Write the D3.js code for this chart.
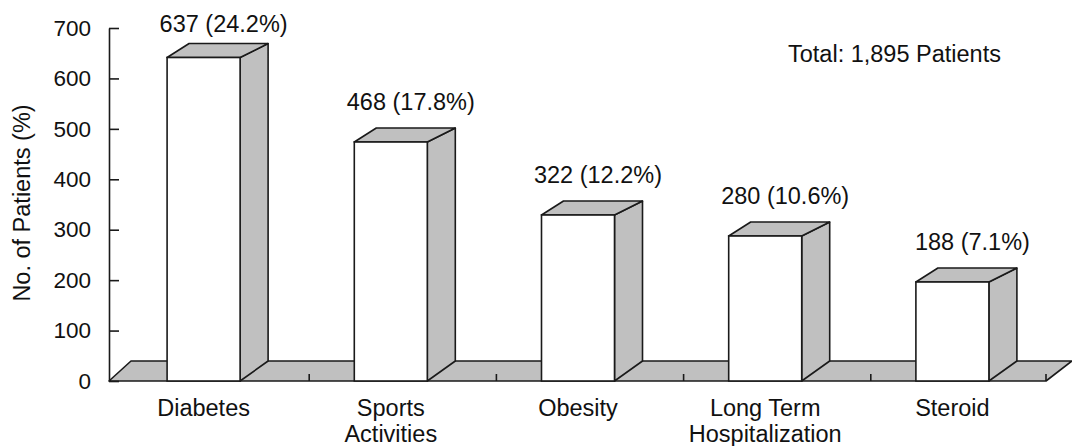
<!DOCTYPE html>
<html>
<head>
  <meta charset="utf-8">
  <script src="https://d3js.org/d3.v7.min.js"></script>
  <style>
    body { margin: 0; background: #fff; }
    svg text { font-family: "Liberation Sans", Arial, sans-serif; fill: #111; }
  </style>
</head>
<body>
  <svg id="chart" width="1072" height="446"></svg>

  <script>
  // data
  const categories = ["Diabetes", "Sports Activities", "Obesity", "Long Term Hospitalization", "Steroid"];
  const categoryLines = [["Diabetes"], ["Sports", "Activities"], ["Obesity"], ["Long Term", "Hospitalization"], ["Steroid"]];
  const patients = [637, 468, 322, 280, 188];
  const percents = ["24.2%", "17.8%", "12.2%", "10.6%", "7.1%"];
  const yTicks = [0, 100, 200, 300, 400, 500, 600, 700];
  const totalLabel = "Total: 1,895 Patients";
  const yTitle = "No. of Patients (%)";

  const ink = "#1a1a1a";
  const grey = "#c0c0c0";
  const floorY = 381;
  // fake 3d offsets
  const depthLeft = 22, depthRight = 28, topRise = 14, floorRise = 20;

  const svg = d3.select("#chart");

  const x = d3.scaleBand().domain(categories).range([110, 1046]);
  const y = d3.scaleLinear().domain([0, 700]).range([floorY, 28]);
  // bar tops sit on a plane a bit behind the axis
  const yBar = d3.scaleLinear().domain([0, 700]).range([376, 26]);
  const barW = x.step() * 0.39;

  const poly = pts => "M" + pts.map(p => p.join(",")).join("L") + "Z";

  // floor
  const [x0, x1] = x.range();
  svg.append("path")
    .attr("d", poly([[x0 - 1, floorY], [x0 - 1 + depthLeft, floorY - floorRise], [x1 + 26, floorY - floorRise], [x1, floorY]]))
    .attr("fill", grey).attr("stroke", ink).attr("stroke-width", 1.6).attr("stroke-linejoin", "round");

  // floor ticks (between categories + end)
  const floorTicks = categories.slice(1).map(c => x(c) + 12).concat([x1]);
  svg.selectAll("line.ftick").data(floorTicks).join("line")
    .attr("class", "ftick")
    .attr("x1", d => d).attr("x2", d => d)
    .attr("y1", floorY - 7).attr("y2", floorY)
    .attr("stroke", ink).attr("stroke-width", 1.6);

  // bars
  const bars = svg.selectAll("g.bar").data(categories).join("g").attr("class", "bar");
  bars.each(function(c, i) {
    const g = d3.select(this);
    const cx = x(c) + x.step() / 2;
    const bx0 = cx - barW / 2, bx1 = cx + barW / 2;
    const yt = yBar(patients[i]);
    g.append("path")
      .attr("d", poly([[bx1, yt], [bx1 + depthRight, yt - topRise], [bx1 + depthRight, floorY - floorRise], [bx1, floorY]]))
      .attr("fill", grey).attr("stroke", ink).attr("stroke-width", 1.6).attr("stroke-linejoin", "round");
    g.append("path")
      .attr("d", poly([[bx0, yt], [bx1, yt], [bx1 + depthRight, yt - topRise], [bx0 + depthLeft, yt - topRise]]))
      .attr("fill", grey).attr("stroke", ink).attr("stroke-width", 1.6).attr("stroke-linejoin", "round");
    g.append("rect")
      .attr("x", bx0).attr("y", yt)
      .attr("width", barW).attr("height", floorY - yt)
      .attr("fill", "#fff").attr("stroke", ink).attr("stroke-width", 1.6);
    g.append("text")
      .attr("x", cx + 20)
      .attr("y", Math.max(yt - 32, 32))
      .attr("text-anchor", "middle")
      .style("font-size", "23.5px")
      .text(patients[i] + " (" + percents[i] + ")");
  });

  // category labels
  svg.selectAll("text.cat").data(categories).join("text")
    .attr("class", "cat")
    .attr("x", d => x(d) + x.step() / 2)
    .attr("y", 416)
    .attr("text-anchor", "middle")
    .style("font-size", "23.5px")
    .selectAll("tspan").data((d, i) => categoryLines[i]).join("tspan")
      .attr("x", function() { return this.parentNode.getAttribute("x"); })
      .attr("dy", (d, j) => j === 0 ? 0 : 25.7)
      .text(d => d);

  // y axis
  const yAxis = svg.append("g")
    .attr("transform", "translate(109,0)")
    .call(d3.axisLeft(y).tickValues(yTicks).tickSizeInner(-10).tickSizeOuter(0).tickPadding(18));
  yAxis.attr("font-size", null).attr("font-family", null);
  yAxis.select(".domain").attr("stroke", ink).attr("stroke-width", 1.6);
  yAxis.selectAll(".tick line").attr("stroke", ink).attr("stroke-width", 1.6);
  yAxis.selectAll(".tick text")
    .style("font-size", "22.5px")
    .attr("fill", null);

  svg.append("text")
    .attr("transform", "translate(30,203) rotate(-90)")
    .attr("text-anchor", "middle")
    .style("font-size", "23.5px")
    .text(yTitle);

  svg.append("text")
    .attr("x", 788).attr("y", 62)
    .style("font-size", "23.5px")
    .text(totalLabel);
  </script>
</body>
</html>
